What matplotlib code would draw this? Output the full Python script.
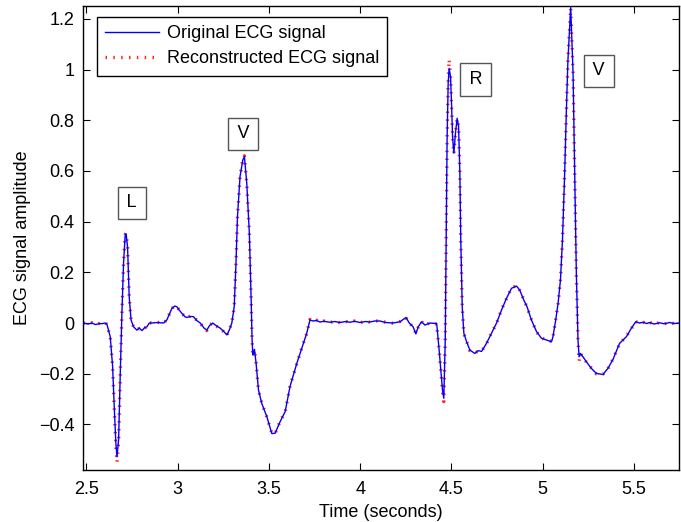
import matplotlib
matplotlib.use("Agg")
import matplotlib.pyplot as plt

plt.rcParams['font.family'] = ['Liberation Sans', 'DejaVu Sans']

# Sample times (s) of the ECG excerpt
time_s = [
    2.484, 2.510, 2.530, 2.550, 2.570, 2.590, 2.605, 2.613, 2.631, 2.644,
    2.653, 2.662, 2.668, 2.677, 2.686, 2.695, 2.704, 2.713, 2.718, 2.726,
    2.735, 2.745, 2.759, 2.777, 2.790, 2.805, 2.820, 2.832, 2.845, 2.859,
    2.888, 2.923, 2.941, 2.969, 2.985, 2.996, 3.010, 3.024, 3.040, 3.051,
    3.070, 3.087, 3.105, 3.124, 3.145, 3.160, 3.175, 3.193, 3.210, 3.233,
    3.255, 3.270, 3.285, 3.297, 3.310, 3.319, 3.328, 3.342, 3.357, 3.366,
    3.379, 3.393, 3.403, 3.408, 3.412, 3.417, 3.421, 3.430, 3.443, 3.461,
    3.489, 3.516, 3.534, 3.561, 3.589, 3.616, 3.653, 3.680, 3.707, 3.725,
    3.742, 3.760, 3.780, 3.800, 3.835, 3.860, 3.890, 3.920, 3.944, 3.970,
    3.999, 4.030, 4.054, 4.080, 4.108, 4.140, 4.181, 4.218, 4.251, 4.269,
    4.290, 4.305, 4.318, 4.336, 4.355, 4.382, 4.419, 4.431, 4.442, 4.451,
    4.458, 4.466, 4.471, 4.476, 4.482, 4.487, 4.495, 4.501, 4.506, 4.513,
    4.522, 4.531, 4.539, 4.546, 4.551, 4.559, 4.568, 4.583, 4.601, 4.628,
    4.646, 4.665, 4.692, 4.719, 4.747, 4.774, 4.801, 4.829, 4.856, 4.874,
    4.896, 4.914, 4.938, 4.966, 4.993, 5.020, 5.048, 5.056, 5.071, 5.084,
    5.097, 5.108, 5.120, 5.130, 5.138, 5.153, 5.166, 5.175, 5.184, 5.193,
    5.199, 5.206, 5.220, 5.239, 5.266, 5.294, 5.330, 5.357, 5.385, 5.421,
    5.458, 5.485, 5.509, 5.530, 5.549, 5.570, 5.585, 5.610, 5.640, 5.665,
    5.695, 5.720, 5.746,
]

# Original ECG amplitude
original = [
    0.000, -0.004, 0.000, -0.006, -0.003, -0.002, 0.000, -0.005, -0.054, -0.170,
    -0.330, -0.475, -0.528, -0.460, -0.200, 0.038, 0.236, 0.347, 0.352, 0.300,
    0.104, 0.012, -0.015, -0.028, -0.020, -0.030, -0.018, -0.015, 0.000, 0.000,
    0.002, 0.000, 0.012, 0.058, 0.067, 0.064, 0.050, 0.038, 0.025, 0.022,
    0.026, 0.025, 0.010, 0.000, -0.020, -0.028, -0.010, 0.000, -0.010, -0.020,
    -0.035, -0.047, -0.025, 0.000, 0.064, 0.220, 0.420, 0.578, 0.643, 0.657,
    0.550, 0.354, 0.090, -0.067, -0.126, -0.118, -0.104, -0.159, -0.264, -0.317,
    -0.370, -0.436, -0.435, -0.390, -0.350, -0.250, -0.159, -0.100, -0.041, 0.012,
    0.008, 0.010, 0.004, 0.007, 0.003, 0.006, 0.002, 0.006, 0.003, 0.007,
    0.002, 0.006, 0.004, 0.008, 0.008, 0.002, 0.000, 0.005, 0.022, 0.000,
    -0.015, -0.043, -0.015, 0.005, -0.008, 0.000, -0.002, -0.094, -0.186, -0.265,
    -0.297, -0.067, 0.328, 0.722, 0.946, 1.005, 0.972, 0.854, 0.735, 0.670,
    0.749, 0.808, 0.775, 0.591, 0.328, 0.064, -0.041, -0.074, -0.107, -0.120,
    -0.109, -0.112, -0.080, -0.041, 0.000, 0.051, 0.097, 0.137, 0.146, 0.130,
    0.091, 0.064, 0.012, -0.034, -0.060, -0.067, -0.074, -0.054, 0.012, 0.078,
    0.170, 0.328, 0.591, 0.854, 1.038, 1.245, 0.986, 0.591, 0.196, -0.067,
    -0.133, -0.120, -0.133, -0.153, -0.179, -0.199, -0.203, -0.179, -0.143, -0.080,
    -0.054, -0.021, 0.005, 0.000, 0.003, -0.002, 0.002, -0.004, 0.001, -0.003,
    0.002, -0.002, 0.000,
]

# Reconstructed ECG amplitude
reconstructed = [
    0.000, -0.003, 0.001, -0.006, -0.002, -0.003, 0.001, -0.006, -0.056, -0.172,
    -0.335, -0.490, -0.550, -0.470, -0.205, 0.036, 0.240, 0.350, 0.354, 0.302,
    0.106, 0.010, -0.016, -0.027, -0.022, -0.028, -0.020, -0.014, 0.001, 0.000,
    0.003, -0.001, 0.013, 0.057, 0.069, 0.062, 0.052, 0.036, 0.027, 0.020,
    0.028, 0.024, 0.011, -0.001, -0.019, -0.030, -0.009, 0.001, -0.012, -0.019,
    -0.036, -0.050, -0.024, 0.002, 0.062, 0.222, 0.418, 0.580, 0.645, 0.660,
    0.548, 0.356, 0.088, -0.069, -0.130, -0.120, -0.106, -0.157, -0.266, -0.315,
    -0.372, -0.434, -0.437, -0.388, -0.352, -0.248, -0.161, -0.098, -0.043, 0.014,
    0.006, 0.011, 0.003, 0.008, 0.002, 0.007, 0.001, 0.007, 0.002, 0.008,
    0.001, 0.007, 0.003, 0.009, 0.007, 0.003, -0.001, 0.006, 0.020, 0.002,
    -0.017, -0.040, -0.017, 0.006, -0.009, 0.001, -0.004, -0.096, -0.188, -0.270,
    -0.310, -0.070, 0.330, 0.725, 0.950, 1.040, 0.975, 0.850, 0.738, 0.668,
    0.752, 0.806, 0.778, 0.588, 0.330, 0.062, -0.043, -0.072, -0.109, -0.118,
    -0.111, -0.110, -0.082, -0.039, -0.002, 0.053, 0.095, 0.139, 0.148, 0.128,
    0.093, 0.062, 0.014, -0.036, -0.058, -0.069, -0.072, -0.056, 0.014, 0.076,
    0.172, 0.326, 0.593, 0.852, 1.040, 1.243, 0.988, 0.589, 0.198, -0.069,
    -0.150, -0.122, -0.131, -0.155, -0.177, -0.201, -0.201, -0.181, -0.141, -0.082,
    -0.052, -0.023, 0.006, -0.001, 0.004, -0.003, 0.003, -0.005, 0.002, -0.004,
    0.003, -0.003, 0.001,
]

# Beat annotations: label, time, amplitude of the text box
beat_labels = ['L', 'V', 'R', 'V']
beat_t = [2.750, 3.359, 4.632, 5.306]
beat_v = [0.474, 0.746, 0.961, 0.995]

x_ticks = [2.5, 3, 3.5, 4, 4.5, 5, 5.5]
x_tick_labels = ['2.5', '3', '3.5', '4', '4.5', '5', '5.5']
y_ticks = [-0.4, -0.2, 0, 0.2, 0.4, 0.6, 0.8, 1, 1.2]
y_tick_labels = ['\u22120.4', '\u22120.2', '0', '0.2', '0.4', '0.6', '0.8', '1', '1.2']

fig = plt.figure(figsize=(6.81, 5.22), dpi=100)
ax = fig.add_axes([0.1219, 0.0996, 0.8751, 0.8889])

ax.plot(time_s, original, color='#0000ff', lw=1.0, label='Original ECG signal', zorder=3)
ax.plot(time_s, reconstructed, color='#ff0000', lw=2.4, linestyle=(0, (0.45, 1.9)),
        dash_capstyle='butt', alpha=0.85, label='Reconstructed ECG signal', zorder=2)

for lab, t, v in zip(beat_labels, beat_t, beat_v):
    ax.text(t, v, '\u200a' + lab + '\u200a', ha='center', va='center', fontsize=13,
            bbox=dict(boxstyle='square,pad=0.42', fc='white', ec='#555555', lw=1.0),
            zorder=4)

ax.set_xlim(2.482, 5.746)
ax.set_ylim(-0.58, 1.251)
ax.set_xticks(x_ticks)
ax.set_xticklabels(x_tick_labels)
ax.set_yticks(y_ticks)
ax.set_yticklabels(y_tick_labels)
ax.tick_params(direction='in', length=5, width=0.8, top=True, right=True,
               labelsize=13, colors='black')
ax.tick_params(axis='x', pad=8)
ax.tick_params(axis='y', pad=6)
for s in ax.spines.values():
    s.set_linewidth(1.0)
    s.set_color('black')

ax.set_xlabel('Time (seconds)', fontsize=13, labelpad=4)
ax.set_ylabel('ECG signal amplitude', fontsize=13, labelpad=6)

leg = ax.legend(loc='upper left', bbox_to_anchor=(0.0235, 0.976), borderaxespad=0,
                fontsize=13, frameon=True, fancybox=False,
                edgecolor='black', framealpha=1.0, borderpad=0.45,
                handlelength=3.0, handletextpad=0.4, labelspacing=0.45)
leg.get_frame().set_linewidth(1.0)

fig.savefig('out.png', dpi=100)
